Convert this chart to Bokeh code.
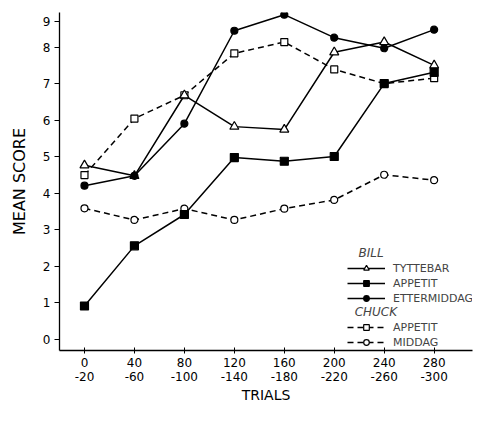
from bokeh.plotting import figure
from bokeh.models import Legend, LegendItem, FixedTicker, Range1d
from bokeh.embed import file_html
from bokeh.resources import INLINE

# ---- data ----
trials = [0, 40, 80, 120, 160, 200, 240, 280]
trials_second_row = ["-20", "-60", "-100", "-140", "-180", "-220", "-260", "-300"]

bill_tyttebar = [4.77, 4.48, 6.69, 5.83, 5.75, 7.87, 8.15, 7.51]
bill_appetit = [0.91, 2.56, 3.42, 4.98, 4.88, 5.01, 7.01, 7.32]
bill_ettermiddag = [4.21, 4.48, 5.91, 8.46, 8.90, 8.27, 7.98, 8.49]
chuck_appetit = [4.50, 6.05, 6.69, 7.84, 8.15, 7.40, 7.01, 7.16]
chuck_middag = [3.59, 3.27, 3.58, 3.27, 3.58, 3.82, 4.51, 4.36]

# the printed "9" tick sits closer to 8 than the other steps
y_tick_positions = [0, 1, 2, 3, 4, 5, 6, 7, 8, 8.72]
y_tick_labels = ["0", "1", "2", "3", "4", "5", "6", "7", "8", "9"]

FONT = "DejaVu Sans"

p = figure(width=474, height=405, output_backend="svg", toolbar_location=None,
           x_range=Range1d(-20, 310.7), y_range=Range1d(-0.31, 8.96),
           min_border_left=59, min_border_right=2, min_border_top=12, min_border_bottom=43)
p.outline_line_color = None
p.xgrid.grid_line_color = None
p.ygrid.grid_line_color = None
p.background_fill_color = "white"
p.border_fill_color = "white"

# axes
p.xaxis.ticker = FixedTicker(ticks=trials)
p.xaxis.major_label_overrides = {t: f"{t}\n{s}" for t, s in zip(trials, trials_second_row)}
p.yaxis.ticker = FixedTicker(ticks=y_tick_positions)
p.yaxis.major_label_overrides = {t: s for t, s in zip(y_tick_positions, y_tick_labels)}
for ax in (p.xaxis, p.yaxis):
    ax.axis_line_color = "black"
    ax.axis_line_width = 1.3
    ax.major_tick_line_color = "black"
    ax.minor_tick_line_color = None
    ax.major_label_text_font = FONT
    ax.major_label_text_font_size = "12px"
    ax.major_label_text_color = "black"
    ax.axis_label_text_font = FONT
    ax.axis_label_text_font_style = "normal"
    ax.axis_label_text_color = "black"
p.xaxis.major_tick_in = 3
p.xaxis.major_tick_out = 3
p.xaxis.major_label_standoff = 2
p.xaxis.major_label_text_line_height = 1.0
p.xaxis.axis_label = "TRIALS"
p.xaxis.axis_label_standoff = 0
p.xaxis.axis_label_text_font_size = "14px"
p.xaxis.axis_label_text_line_height = 1.0
p.yaxis.major_tick_in = 0
p.yaxis.major_tick_out = 5
p.yaxis.major_label_standoff = 4
p.yaxis.axis_label = "MEAN SCORE"
p.yaxis.axis_label_standoff = 11
p.yaxis.axis_label_text_font_size = "16px"

# series
def series(y, dash, marker, fill, size):
    ln = p.line(trials, y, line_color="black", line_width=1.5, line_dash=dash)
    sc = p.scatter(trials, y, marker=marker, size=size, line_color="black",
                   line_width=1.2, fill_color=fill)
    return [ln, sc]

r_cm = series(chuck_middag, "6 4", "circle", "white", 7)
r_ca = series(chuck_appetit, "6 4", "square", "white", 7)
r_bt = series(bill_tyttebar, "solid", "triangle", "white", 9)
r_be = series(bill_ettermiddag, "solid", "circle", "black", 7)
r_ba = series(bill_appetit, "solid", "square", "black", 8)

def make_legend(title, items, loc):
    lg = Legend(items=items, location=loc, title=title,
                title_text_font=FONT, title_text_font_style="italic",
                title_text_font_size="12px", title_standoff=1,
                label_text_font=FONT, label_text_font_size="11px",
                label_height=14, glyph_height=14, glyph_width=38,
                label_standoff=8, spacing=1, padding=0, margin=0,
                border_line_color=None, background_fill_alpha=0)
    p.add_layout(lg)

nb = "\u00a0"
make_legend(nb * 3 + "BILL", [LegendItem(label="TYTTEBAR", renderers=r_bt),
                             LegendItem(label="APPETIT", renderers=r_ba),
                             LegendItem(label="ETTERMIDDAG", renderers=r_be)], (288, 45))
make_legend(nb * 2 + "CHUCK", [LegendItem(label="APPETIT", renderers=r_ca),
                              LegendItem(label="MIDDAG", renderers=r_cm)], (288, 1))

open("out.html", "w").write(file_html(p, INLINE))
